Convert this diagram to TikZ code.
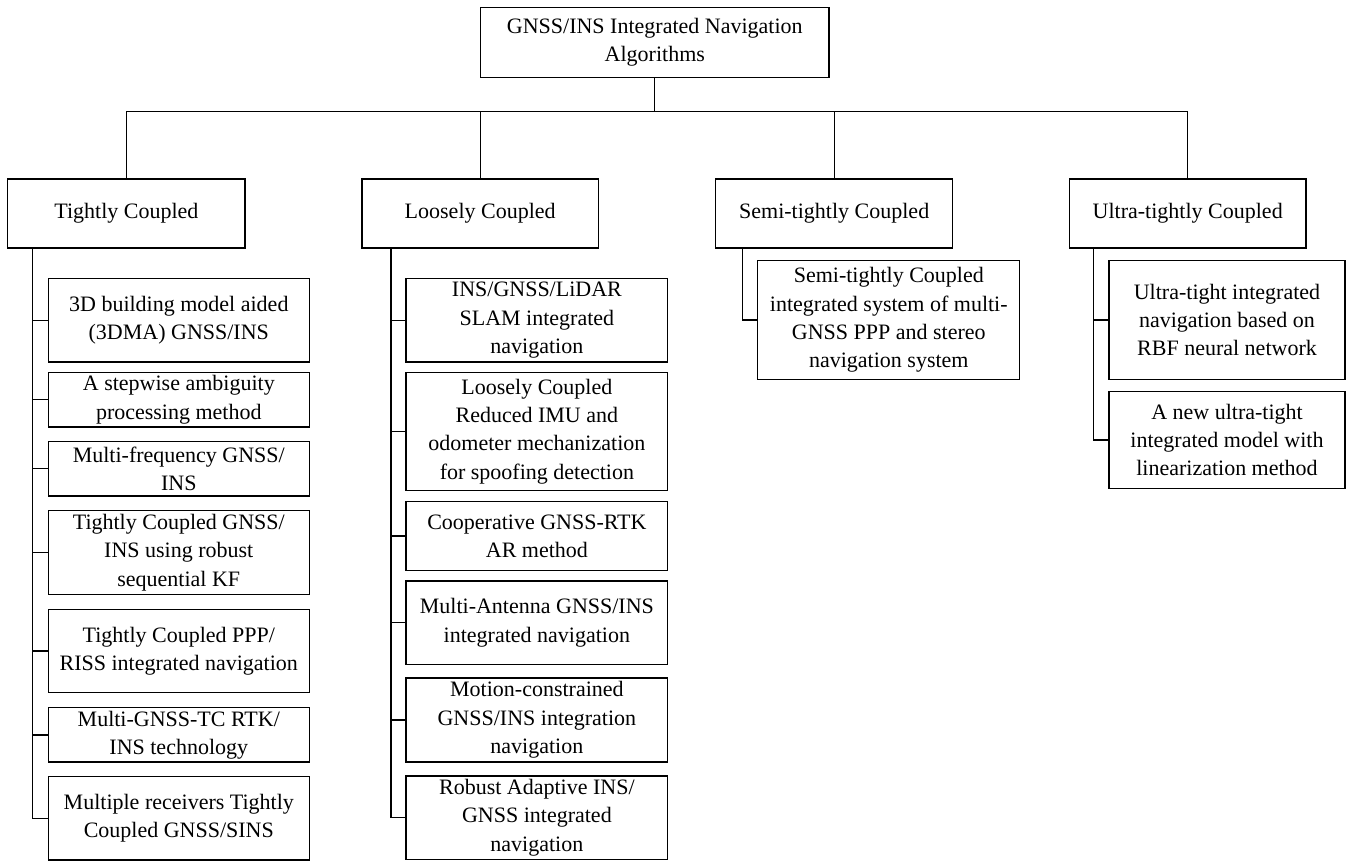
\documentclass[tikz,border=0pt]{standalone}
\usepackage{fontspec}
\setmainfont{Liberation Serif}
\usepackage{tikz}

\begin{document}
\begin{tikzpicture}[x=1pt,y=1pt,yscale=-1,xscale=1,
  box/.style={draw, line width=1.3pt, align=center, inner sep=0pt,
    font=\fontsize{22}{28.3}\selectfont},
  link/.style={line width=1.3pt}]
\useasboundingbox (0,0) rectangle (1350,861);

%Shape: Rectangle [id:root]
\node [box, minimum width=348.5pt, minimum height=70pt] (root) at (654.8,42.3) {GNSS/INS Integrated Navigation\\Algorithms};

%Shape: Rectangle [id:categories]
\node [box, minimum width=237.2pt, minimum height=69pt] (tc) at (126.4,213.6) {Tightly Coupled};
\node [box, minimum width=236.3pt, minimum height=69pt] (lc) at (480.2,213.6) {Loosely Coupled};
\node [box, minimum width=237pt, minimum height=69pt] (sc) at (834.2,213.6) {Semi-tightly Coupled};
\node [box, minimum width=236.6pt, minimum height=69pt] (uc) at (1187.7,213.6) {Ultra-tightly Coupled};

%Shape: Rectangle [id:tightly]
\node [box, minimum width=261pt, minimum height=83.7pt] (t1) at (178.8,320.2) {3D building model aided\\(3DMA) GNSS/INS};
\node [box, minimum width=261pt, minimum height=54.7pt] (t2) at (178.8,399.7) {A stepwise ambiguity\\processing method};
\node [box, minimum width=261pt, minimum height=54.7pt] (t3) at (178.8,468.7) {Multi-frequency GNSS/\\INS};
\node [box, minimum width=261pt, minimum height=83.6pt] (t4) at (178.8,552.5) {Tightly Coupled GNSS/\\INS using robust\\sequential KF};
\node [box, minimum width=261pt, minimum height=83.4pt] (t5) at (178.8,651) {Tightly Coupled PPP/\\RISS integrated navigation};
\node [box, minimum width=261pt, minimum height=54.3pt] (t6) at (178.8,734.9) {Multi-GNSS-TC RTK/\\INS technology};
\node [box, minimum width=261pt, minimum height=83.3pt] (t7) at (178.8,818.4) {Multiple receivers Tightly\\Coupled GNSS/SINS};

%Shape: Rectangle [id:loosely]
\node [box, minimum width=261.7pt, minimum height=83.7pt] (l1) at (536.9,320.2) {INS/GNSS/LiDAR\\SLAM integrated\\navigation};
\node [box, minimum width=261.7pt, minimum height=118.4pt] (l2) at (536.9,431.5) {Loosely Coupled\\Reduced IMU and\\odometer mechanization\\for spoofing detection};
\node [box, minimum width=261.7pt, minimum height=68.6pt] (l3) at (536.9,536) {Cooperative GNSS-RTK\\AR method};
\node [box, minimum width=261.7pt, minimum height=83.3pt] (l4) at (536.9,622.7) {Multi-Antenna GNSS/INS\\integrated navigation};
\node [box, minimum width=261.7pt, minimum height=84pt] (l5) at (536.9,720) {Motion-constrained\\GNSS/INS integration\\navigation};
\node [box, minimum width=261.7pt, minimum height=83.3pt] (l6) at (536.9,817.7) {Robust Adaptive INS/\\GNSS integrated\\navigation};

%Shape: Rectangle [id:semi]
\node [box, minimum width=262pt, minimum height=119pt] (s1) at (888.8,320) {Semi-tightly Coupled\\integrated system of multi-\\GNSS PPP and stereo\\navigation system};

%Shape: Rectangle [id:ultra]
\node [box, minimum width=236pt, minimum height=119pt] (u1) at (1227,320) {Ultra-tight integrated\\navigation based on\\RBF neural network};
\node [box, minimum width=236pt, minimum height=96.6pt] (u2) at (1227,440) {A new ultra-tight\\integrated model with\\linearization method};

%Straight Lines [id:bus]
\foreach \c in {tc,lc,sc,uc}
  \draw [link] (root.south) -- ++(0,33.4) -| (\c.north);

%Straight Lines [id:trunks]
\foreach \c in {t1,t2,t3,t4,t5,t6,t7}
  \draw [link] ([xshift=25.2pt]tc.south west) |- (\c.west);
\foreach \c in {l1,l2,l3,l4,l5,l6}
  \draw [link] ([xshift=29.7pt]lc.south west) |- (\c.west);
\draw [link] ([xshift=27.4pt]sc.south west) |- (s1.west);
\foreach \c in {u1,u2}
  \draw [link] ([xshift=25pt]uc.south west) |- (\c.west);

\end{tikzpicture}
\end{document}
